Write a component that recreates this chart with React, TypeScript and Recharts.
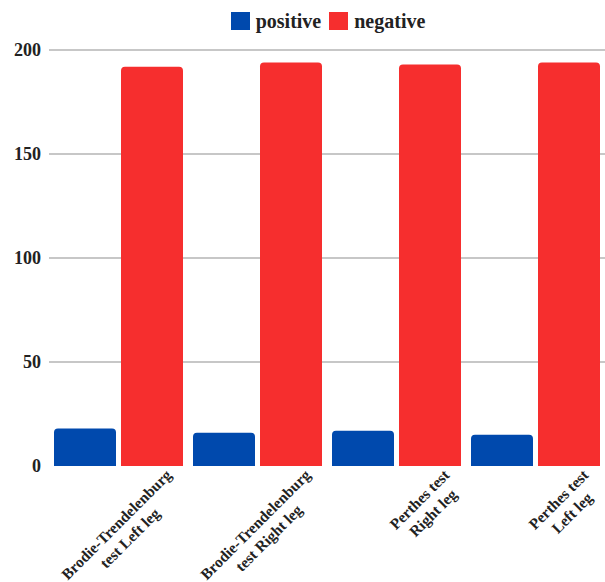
import { Bar, BarChart, CartesianGrid, Legend, XAxis, YAxis } from "recharts";

const categories = [
  "Brodie-Trendelenburg\ntest Left leg",
  "Brodie-Trendelenburg\ntest Right leg",
  "Perthes test\nRight leg",
  "Perthes test\nLeft leg",
];
const positive = [18, 16, 17, 15];
const negative = [192, 194, 193, 194];
const yTicks = [0, 50, 100, 150, 200];

const BLUE = "#0049ad";
const RED = "#f62e2e";
const FONT_FAMILY = "'Liberation Serif', 'Times New Roman', serif";
const LABEL_FONT = `bold 15.5px ${FONT_FAMILY}`;

const data = categories.map((name, i) => ({
  name,
  positive: positive[i],
  negative: negative[i],
}));

let ctx: CanvasRenderingContext2D | null = null;
function textWidth(s: string) {
  if (!ctx && typeof document !== "undefined") {
    ctx = document.createElement("canvas").getContext("2d");
  }
  if (!ctx) return s.length * 7.5;
  ctx.font = LABEL_FONT;
  return ctx.measureText(s).width;
}

// slanted, centred multi-line category labels
function SlantTick({ x, y, payload }: any) {
  const lines = String(payload.value).split("\n");
  const w = Math.max(...lines.map(textWidth));
  return (
    <g transform={`translate(${x + 54},${y + 10}) rotate(-45)`}>
      {lines.map((l, i) => (
        <text
          key={i}
          x={-w / 2}
          y={i * 19}
          textAnchor="middle"
          fontFamily={FONT_FAMILY}
          fontWeight="bold"
          fontSize={15.5}
          fill="#222"
        >
          {l}
        </text>
      ))}
    </g>
  );
}

function LegendBox() {
  const items = [
    { label: "positive", color: BLUE },
    { label: "negative", color: RED },
  ];
  return (
    <div
      style={{
        height: 50,
        boxSizing: "border-box",
        paddingLeft: 59,
        paddingTop: 10,
        display: "flex",
        justifyContent: "center",
        alignItems: "flex-start",
        fontFamily: FONT_FAMILY,
        fontWeight: "bold",
        fontSize: 20,
        color: "#222",
      }}
    >
      {items.map((it) => (
        <div key={it.label} style={{ display: "flex", alignItems: "center", marginRight: 8 }}>
          <span style={{ width: 19, height: 18, background: it.color, display: "inline-block" }} />
          <span style={{ marginLeft: 6, lineHeight: "22px" }}>{it.label}</span>
        </div>
      ))}
    </div>
  );
}

export default function App() {
  return (
    <div style={{ position: "absolute", left: 0, top: 0, width: 605, height: 582, overflow: "hidden" }}>
      <BarChart
        width={605}
        height={582}
        data={data}
        margin={{ top: 0, right: 0, left: 0, bottom: 0 }}
        barCategoryGap={5}
        barGap={5}
      >
        <CartesianGrid
          vertical={false}
          stroke="#b5b5b5"
          strokeWidth={1.5}
          horizontalValues={[50, 100, 150, 200]}
        />
        <XAxis
          dataKey="name"
          axisLine={false}
          tickLine={false}
          tickSize={0}
          tickMargin={0}
          height={116}
          interval={0}
          tick={<SlantTick />}
        />
        <YAxis
          domain={[0, 200]}
          ticks={yTicks}
          width={49}
          axisLine={false}
          tickLine={false}
          tick={{ fontFamily: FONT_FAMILY, fontWeight: "bold", fontSize: 18, fill: "#222" }}
        />
        <Legend
          verticalAlign="top"
          content={() => <LegendBox />}
          wrapperStyle={{ left: 0, top: 0, width: 605 }}
        />
        <Bar dataKey="positive" fill={BLUE} radius={[4, 4, 0, 0]} isAnimationActive={false} />
        <Bar dataKey="negative" fill={RED} radius={[4, 4, 0, 0]} isAnimationActive={false} />
      </BarChart>
    </div>
  );
}
